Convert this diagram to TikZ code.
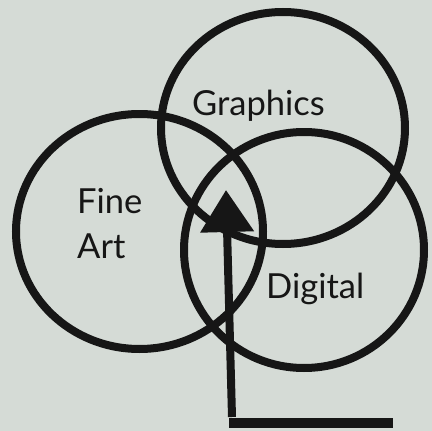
\documentclass[tikz,border=0pt]{standalone}
\usepackage{fontspec}
\setmainfont{Lato}
\usepackage{xcolor}
\usetikzlibrary{arrows.meta}
\definecolor{paper}{RGB}{213,219,214}
\definecolor{ink}{RGB}{22,22,22}
\tikzset{
	ring/.style={draw=ink, line width=8pt},
	field/.style={font=\fontsize{34.5}{45}\selectfont, text=ink, inner sep=0pt, align=left, anchor=base west}
}

\begin{document}
\begin{tikzpicture}[x=1pt, y=-1pt]
		% 背景
		\fill[paper] (0,0) rectangle (432,431);
		\useasboundingbox (0,0) rectangle (432,431);
		% 三个圆
		\coordinate (cGraphics) at (283,128);
		\coordinate (cFine) at (139.5,231.5);
		\coordinate (cDigital) at (304,250);
		\draw[ring] (cGraphics) ellipse [x radius=122, y radius=116];
		\draw[ring] (cFine) ellipse [x radius=123.5, y radius=117.5];
		\draw[ring] (cDigital) ellipse [x radius=120, y radius=118];
		% 文字
		\node[field] (graphics) at (192,115) {Graphics};
		\node[field] (fineart) at (77,258) {Fine\\Art};
		\node[field] (digital) at (266,298) {Digital};
		% 箭头
		\coordinate (start) at (232,417);
		\coordinate (tip) at (226,190);
		\draw[ink, line width=8pt, -{Triangle[length=42pt, width=52pt]}] (start) -- (tip);
		\fill[ink] (229,418) rectangle (393,428);
	\end{tikzpicture}
\end{document}
